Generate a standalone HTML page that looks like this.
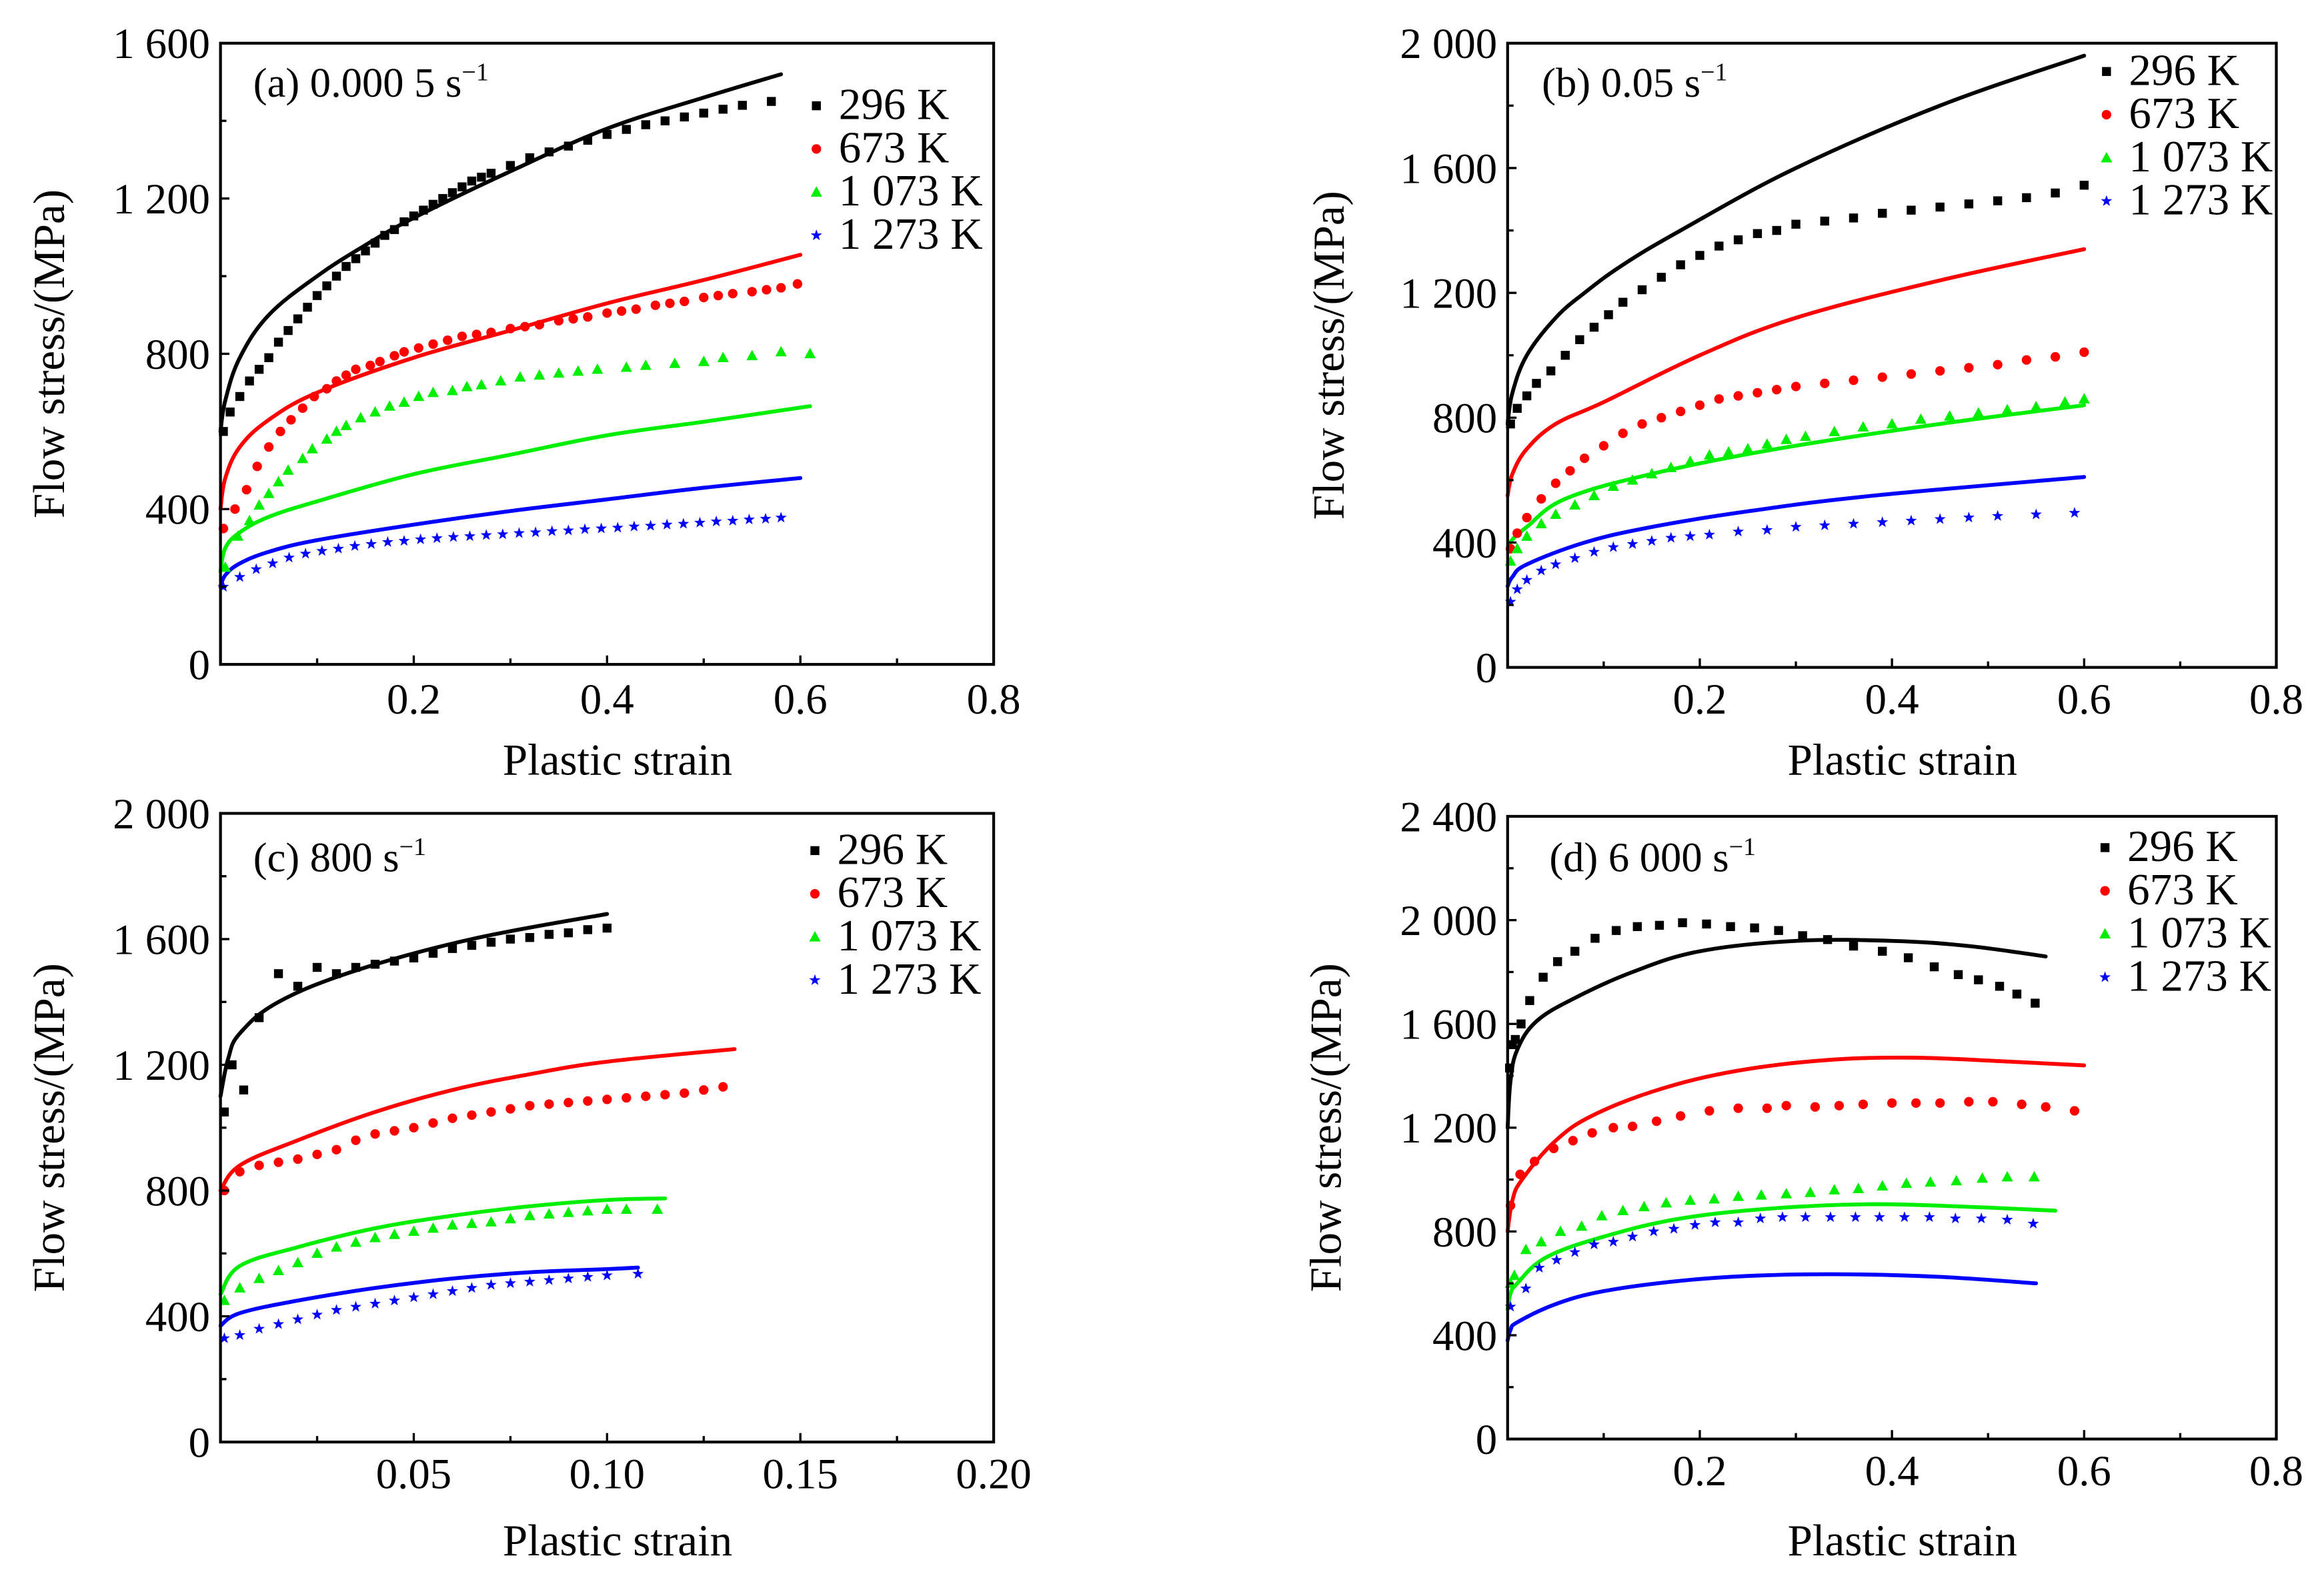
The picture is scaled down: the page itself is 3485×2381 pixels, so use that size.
<!DOCTYPE html>
<html><head><meta charset="utf-8"><style>
html,body{margin:0;padding:0;background:#fff}
svg{display:block}
text{font-family:"Liberation Serif",serif;fill:#000}
</style></head><body>
<svg id="fig" width="3485" height="2381" viewBox="0 0 1560 1066" preserveAspectRatio="none" xmlns="http://www.w3.org/2000/svg"></svg>
<script>
// ---------- Panel (a) data ----------
const aBlackLineX=[0,0.005,0.02,0.05,0.1,0.15,0.2,0.3,0.4,0.5,0.58];
const aBlackLineY=[600,680,790,900,1000,1080,1150,1270,1380,1460,1520];
const aRedLineX=[0,0.005,0.02,0.05,0.1,0.2,0.3,0.4,0.5,0.6];
const aRedLineY=[400,480,560,630,700,790,860,930,990,1055];
const aGreenLineX=[0,0.005,0.02,0.05,0.1,0.2,0.3,0.4,0.5,0.61];
const aGreenLineY=[240,300,340,380,420,490,540,590,625,665];
const aBlueLineX=[0,0.005,0.02,0.05,0.1,0.2,0.3,0.4,0.5,0.6];
const aBlueLineY=[200,230,260,290,320,360,395,425,455,480];
const aBlackPtsX=[0.003,0.01,0.02,0.03,0.04,0.05,0.06,0.07,0.08,0.09,0.1,0.11,0.12,0.13,0.14,0.15,0.16,0.17,0.18,0.19,0.2,0.21,0.22,0.23,0.24,0.25,0.26,0.27,0.28,0.3,0.32,0.34,0.36,0.38,0.4,0.42,0.44,0.46,0.48,0.5,0.52,0.54,0.57];
const aBlackPtsY=[600,650,690,730,760,790,830,860,890,920,950,975,1000,1025,1045,1065,1085,1105,1120,1140,1155,1170,1185,1200,1215,1230,1245,1255,1265,1285,1305,1320,1335,1350,1365,1378,1390,1400,1410,1420,1430,1440,1450];
const aRedPtsX=[0.003,0.015,0.027,0.038,0.05,0.062,0.073,0.085,0.097,0.11,0.12,0.13,0.14,0.155,0.165,0.18,0.19,0.205,0.22,0.235,0.25,0.265,0.28,0.3,0.315,0.33,0.35,0.365,0.38,0.4,0.415,0.43,0.45,0.465,0.48,0.5,0.515,0.53,0.55,0.565,0.58,0.597];
const aRedPtsY=[350,400,450,510,560,600,630,660,690,710,730,745,760,770,780,795,805,815,825,835,845,850,855,865,870,875,885,890,895,905,910,915,925,930,935,945,950,955,960,965,970,980];
const aGreenPtsX=[0.005,0.018,0.03,0.04,0.05,0.06,0.07,0.085,0.095,0.11,0.12,0.13,0.145,0.16,0.175,0.19,0.205,0.22,0.24,0.255,0.27,0.29,0.31,0.33,0.35,0.37,0.39,0.42,0.44,0.47,0.5,0.52,0.55,0.58,0.61];
const aGreenPtsY=[250,330,370,410,440,470,500,530,555,580,600,615,635,650,665,675,690,700,705,715,720,730,740,745,750,755,760,765,770,775,780,790,795,805,800];
const aBluePtsX=[0.003,0.02,0.037,0.054,0.071,0.088,0.105,0.122,0.139,0.156,0.173,0.19,0.207,0.224,0.241,0.258,0.275,0.292,0.309,0.326,0.343,0.36,0.377,0.394,0.411,0.428,0.445,0.462,0.479,0.496,0.513,0.53,0.547,0.564,0.58];
const aBluePtsY=[200,225,245,260,275,285,292,298,305,310,315,318,322,325,328,330,333,335,338,340,343,345,348,350,352,355,357,360,362,365,368,370,373,375,378];
// ---------- Panel (b) data ----------
const bBlackLineX=[0,0.005,0.02,0.05,0.08,0.12,0.18,0.3,0.45,0.6];
const bBlackLineY=[780,880,1000,1120,1200,1290,1400,1600,1800,1960];
const bRedLineX=[0,0.005,0.02,0.05,0.1,0.2,0.3,0.45,0.6];
const bRedLineY=[550,620,700,780,850,1000,1120,1240,1340];
const bGreenLineX=[0,0.005,0.02,0.06,0.15,0.28,0.45,0.6];
const bGreenLineY=[380,410,450,540,620,700,780,840];
const bBlueLineX=[0,0.005,0.02,0.08,0.15,0.25,0.38,0.6];
const bBlueLineY=[260,290,330,400,450,500,550,610];
const bBlackPtsX=[0.003,0.01,0.02,0.03,0.045,0.06,0.075,0.09,0.105,0.12,0.14,0.16,0.18,0.2,0.22,0.24,0.26,0.28,0.3,0.33,0.36,0.39,0.42,0.45,0.48,0.51,0.54,0.57,0.6];
const bBlackPtsY=[780,830,870,910,950,1000,1050,1090,1130,1170,1210,1250,1290,1320,1350,1370,1390,1400,1420,1430,1440,1455,1465,1475,1485,1495,1505,1520,1545];
const bRedPtsX=[0.003,0.01,0.02,0.035,0.05,0.065,0.08,0.1,0.12,0.14,0.16,0.18,0.2,0.22,0.24,0.26,0.28,0.3,0.33,0.36,0.39,0.42,0.45,0.48,0.51,0.54,0.57,0.6];
const bRedPtsY=[380,430,480,540,590,630,670,710,750,780,800,820,840,860,870,880,890,900,910,920,930,940,950,960,970,985,995,1010];
const bGreenPtsX=[0.003,0.01,0.02,0.035,0.05,0.07,0.09,0.11,0.13,0.15,0.17,0.19,0.21,0.23,0.25,0.27,0.29,0.31,0.34,0.37,0.4,0.43,0.46,0.49,0.52,0.55,0.58,0.6];
const bGreenPtsY=[340,380,420,460,490,520,550,580,600,620,640,660,680,690,700,715,730,740,755,770,780,795,805,815,825,835,850,860];
const bBluePtsX=[0.003,0.01,0.02,0.035,0.05,0.07,0.09,0.11,0.13,0.15,0.17,0.19,0.21,0.24,0.27,0.3,0.33,0.36,0.39,0.42,0.45,0.48,0.51,0.55,0.59];
const bBluePtsY=[210,250,280,310,330,350,370,385,395,405,415,420,425,435,440,450,455,460,465,470,475,480,485,490,495];
// ---------- Panel (c) data ----------
const cBlackLineX=[0,0.002,0.005,0.015,0.035,0.065,0.1];
const cBlackLineY=[1100,1220,1300,1400,1500,1600,1680];
const cRedLineX=[0,0.005,0.02,0.04,0.06,0.08,0.1,0.133];
const cRedLineY=[800,880,960,1050,1120,1170,1210,1250];
const cGreenLineX=[0,0.005,0.02,0.04,0.06,0.08,0.1,0.115];
const cGreenLineY=[470,560,620,680,720,750,770,775];
const cBlueLineX=[0,0.005,0.02,0.04,0.06,0.08,0.1,0.108];
const cBlueLineY=[370,410,450,490,520,540,550,555];
const cBlackPtsX=[0.001,0.003,0.006,0.01,0.015,0.02,0.025,0.03,0.035,0.04,0.045,0.05,0.055,0.06,0.065,0.07,0.075,0.08,0.085,0.09,0.095,0.1];
const cBlackPtsY=[1050,1200,1120,1350,1490,1450,1510,1490,1510,1520,1530,1540,1555,1570,1580,1590,1600,1605,1615,1620,1630,1635];
const cRedPtsX=[0.001,0.005,0.01,0.015,0.02,0.025,0.03,0.035,0.04,0.045,0.05,0.055,0.06,0.065,0.07,0.075,0.08,0.085,0.09,0.095,0.1,0.105,0.11,0.115,0.12,0.125,0.13];
const cRedPtsY=[800,860,880,890,900,915,930,960,980,990,1000,1015,1030,1040,1050,1060,1070,1075,1080,1085,1090,1095,1100,1105,1110,1120,1130];
const cGreenPtsX=[0.001,0.005,0.01,0.015,0.02,0.025,0.03,0.035,0.04,0.045,0.05,0.055,0.06,0.065,0.07,0.075,0.08,0.085,0.09,0.095,0.1,0.105,0.113];
const cGreenPtsY=[450,490,520,545,570,600,620,635,650,660,670,680,690,695,700,710,720,725,730,735,740,740,740];
const cBluePtsX=[0.001,0.005,0.01,0.015,0.02,0.025,0.03,0.035,0.04,0.045,0.05,0.055,0.06,0.065,0.07,0.075,0.08,0.085,0.09,0.095,0.1,0.108];
const cBluePtsY=[330,340,360,375,390,405,420,430,440,450,460,470,480,490,500,505,510,515,520,525,530,535];
// ---------- Panel (d) data ----------
const dBlackLineX=[0,0.003,0.01,0.03,0.07,0.13,0.2,0.3,0.4,0.48,0.56];
const dBlackLineY=[1200,1380,1500,1610,1700,1800,1880,1920,1920,1900,1860];
const dRedLineX=[0,0.005,0.015,0.05,0.09,0.16,0.24,0.33,0.42,0.52,0.6];
const dRedLineY=[800,920,1000,1150,1250,1350,1420,1460,1470,1455,1440];
const dGreenLineX=[0,0.003,0.01,0.04,0.1,0.18,0.28,0.38,0.48,0.57];
const dGreenLineY=[500,560,600,700,780,850,890,905,895,880];
const dBlueLineX=[0,0.003,0.01,0.05,0.1,0.18,0.26,0.35,0.45,0.55];
const dBlueLineY=[380,420,450,520,570,610,630,635,625,600];
const dBlackPtsX=[0.002,0.005,0.008,0.014,0.023,0.037,0.052,0.07,0.091,0.113,0.135,0.158,0.182,0.207,0.232,0.257,0.282,0.307,0.333,0.36,0.39,0.417,0.444,0.469,0.49,0.512,0.53,0.549];
const dBlackPtsY=[1430,1520,1540,1600,1690,1780,1840,1880,1930,1960,1975,1980,1990,1985,1975,1970,1960,1940,1925,1900,1880,1855,1820,1790,1770,1745,1715,1680];
const dRedPtsX=[0.003,0.013,0.028,0.048,0.068,0.088,0.11,0.13,0.155,0.18,0.21,0.24,0.27,0.29,0.32,0.345,0.37,0.4,0.425,0.45,0.48,0.505,0.535,0.56,0.59];
const dRedPtsY=[900,1020,1070,1120,1150,1180,1200,1205,1225,1245,1265,1275,1275,1285,1280,1285,1290,1295,1295,1295,1300,1300,1290,1280,1265];
const dGreenPtsX=[0.003,0.007,0.019,0.035,0.055,0.077,0.098,0.12,0.142,0.165,0.19,0.215,0.24,0.264,0.29,0.315,0.34,0.365,0.39,0.415,0.44,0.467,0.494,0.52,0.548];
const dGreenPtsY=[600,630,730,760,800,820,860,880,895,910,920,925,935,940,945,950,960,965,975,985,990,995,1005,1010,1010];
const dBluePtsX=[0.003,0.019,0.033,0.051,0.07,0.09,0.11,0.13,0.152,0.173,0.195,0.216,0.24,0.263,0.286,0.31,0.336,0.362,0.387,0.413,0.439,0.466,0.493,0.52,0.547];
const dBluePtsY=[510,580,660,690,720,750,760,780,800,810,825,835,835,850,855,855,855,855,855,855,855,850,850,845,830];

const legendLabels=["296 K","673 K","1 073 K","1 273 K"];
const colors=["#000000","#ff0000","#00ee00","#0000ff"];
const markers=["square","circle","triangle","star"];

const NS="http://www.w3.org/2000/svg";
const svg=document.getElementById('fig');
function el(tag,attrs,parent){const e=document.createElementNS(NS,tag);for(const k in attrs)e.setAttribute(k,attrs[k]);(parent||svg).appendChild(e);return e;}

function drawMarker(g,type,x,y,c){
  let m;
  if(type==="square") m=el('rect',{x:x-3,y:y-3,width:6,height:6,fill:c},g);
  else if(type==="circle") m=el('circle',{cx:x,cy:y,r:3.2,fill:c},g);
  else if(type==="triangle") m=el('polygon',{points:`${x},${y-4} ${x+3.8},${y+3} ${x-3.8},${y+3}`,fill:c},g);
  else {let p=[];for(let i=0;i<10;i++){const r=i%2?1.6:4;const a=-Math.PI/2+i*Math.PI/5;p.push((x+r*Math.cos(a)).toFixed(2)+","+(y+r*Math.sin(a)).toFixed(2));}
    m=el('polygon',{points:p.join(' '),fill:c},g);}
  return m;
}
function smoothPath(P){
  let d='M'+P[0][0].toFixed(2)+','+P[0][1].toFixed(2);
  for(let i=0;i<P.length-1;i++){
    const p0=P[Math.max(i-1,0)],p1=P[i],p2=P[i+1],p3=P[Math.min(i+2,P.length-1)];
    const t=0.18;
    const c1=[p1[0]+(p2[0]-p0[0])*t,p1[1]+(p2[1]-p0[1])*t];
    const c2=[p2[0]-(p3[0]-p1[0])*t,p2[1]-(p3[1]-p1[1])*t];
    d+=` C${c1[0].toFixed(2)},${c1[1].toFixed(2)} ${c2[0].toFixed(2)},${c2[1].toFixed(2)} ${p2[0].toFixed(2)},${p2[1].toFixed(2)}`;
  }
  return d;
}

function panel(cfg){
  const {id,L,R,T,B,xmax,ymax,xticks,xlabels,yticks,ylabels,title,lines,pts,legX,legY,legDy,titleX,titleY,ylabX,xlabY,tickLabY}=cfg;
  const g=el('g',{});
  
  
  const sx=v=>L+(R-L)*v/xmax, sy=v=>B-(B-T)*v/ymax;
  lines.forEach((ln,i)=>{
    const P=ln[0].map((x,j)=>[sx(x),sy(ln[1][j])]);
    const p=el('path',{d:smoothPath(P),fill:'none',stroke:colors[i],'stroke-width':2.6,'stroke-linejoin':'round','stroke-linecap':'round'},g);
    
    
  });
  pts.forEach((ps,i)=>{
    const mg=el('g',{},g);
    
    
    ps[0].forEach((x,j)=>{drawMarker(mg,markers[i],sx(x),sy(ps[1][j]),colors[i]);});
  });
  const fr=el('rect',{x:L,y:T,width:R-L,height:B-T,fill:'none',stroke:'#000','stroke-width':1.9},g);
  
  
  xticks.forEach((v,i)=>{
    const major=xlabels[i]!==null;
    el('line',{x1:sx(v),x2:sx(v),y1:B,y2:B-(major?6:4),stroke:'#000','stroke-width':1.5},g);
    if(major&&xlabels[i]!==""){
      const t=el('text',{x:sx(v),y:tickLabY,'font-size':29,'text-anchor':'middle'},g);
      t.textContent=xlabels[i];
      
      
    }
  });
  yticks.forEach((v,i)=>{
    const major=ylabels[i]!==null;
    el('line',{x1:L,x2:L+(major?6:4),y1:sy(v),y2:sy(v),stroke:'#000','stroke-width':1.5},g);
    if(major){
      const t=el('text',{x:L-7,y:sy(v)+10,'font-size':29,'text-anchor':'end'},g);
      t.textContent=ylabels[i];
      
      
    }
  });
  const yt=el('text',{x:0,y:0,'font-size':30,'text-anchor':'middle',transform:`translate(${ylabX},${(T+B)/2}) rotate(-90)`},g);
  yt.textContent='Flow stress/(MPa)';
  
  
  const xt=el('text',{x:(L+R)/2+7,y:xlabY,'font-size':30,'text-anchor':'middle'},g);
  xt.textContent='Plastic strain';
  
  
  const tt=el('text',{x:titleX,y:titleY,'font-size':28},g);
  
  
  tt.appendChild(document.createTextNode(title+' s'));
  const sup=el('tspan',{dy:-11,'font-size':17},tt); sup.textContent='−1';
  const lg=el('g',{},g);
  
  
  legendLabels.forEach((lab,i)=>{
    const y=legY+i*legDy;
    drawMarker(lg,markers[i],legX,y-9,colors[i]);
    const t=el('text',{x:legX+15,y:y,'font-size':30},lg);
    t.textContent=lab;
    
    
  });
}

const strainTicks=[0.1,0.2,0.3,0.4,0.5,0.6,0.7,0.8];
const strainLabels=[null,"0.2",null,"0.4",null,"0.6",null,"0.8"];
panel({id:'a',L:148,R:667,T:29,B:446,xmax:0.8,ymax:1600,xticks:strainTicks,xlabels:strainLabels,
  yticks:[0,200,400,600,800,1000,1200,1400,1600],ylabels:["0",null,"400",null,"800",null,"1 200",null,"1 600"],
  title:'(a) 0.000 5',titleX:170,titleY:65,
  lines:[[aBlackLineX,aBlackLineY],[aRedLineX,aRedLineY],[aGreenLineX,aGreenLineY],[aBlueLineX,aBlueLineY]],
  pts:[[aBlackPtsX,aBlackPtsY],[aRedPtsX,aRedPtsY],[aGreenPtsX,aGreenPtsY],[aBluePtsX,aBluePtsY]],
  legX:548,legY:80,legDy:29,ylabX:43,xlabY:520,tickLabY:479});
panel({id:'b',L:1012,R:1528,T:29,B:448,xmax:0.8,ymax:2000,xticks:strainTicks,xlabels:strainLabels,
  yticks:[0,200,400,600,800,1000,1200,1400,1600,1800,2000],ylabels:["0",null,"400",null,"800",null,"1 200",null,"1 600",null,"2 000"],
  title:'(b) 0.05',titleX:1035,titleY:65,
  lines:[[bBlackLineX,bBlackLineY],[bRedLineX,bRedLineY],[bGreenLineX,bGreenLineY],[bBlueLineX,bBlueLineY]],
  pts:[[bBlackPtsX,bBlackPtsY],[bRedPtsX,bRedPtsY],[bGreenPtsX,bGreenPtsY],[bBluePtsX,bBluePtsY]],
  legX:1414,legY:57,legDy:29,ylabX:902,xlabY:520,tickLabY:479});
panel({id:'c',L:148,R:667,T:546,B:968,xmax:0.2,ymax:2000,xticks:[0.025,0.05,0.075,0.1,0.125,0.15,0.175,0.2],xlabels:[null,"0.05",null,"0.10",null,"0.15",null,"0.20"],
  yticks:[0,200,400,600,800,1000,1200,1400,1600,1800,2000],ylabels:["0",null,"400",null,"800",null,"1 200",null,"1 600",null,"2 000"],
  title:'(c) 800',titleX:170,titleY:585,
  lines:[[cBlackLineX,cBlackLineY],[cRedLineX,cRedLineY],[cGreenLineX,cGreenLineY],[cBlueLineX,cBlueLineY]],
  pts:[[cBlackPtsX,cBlackPtsY],[cRedPtsX,cRedPtsY],[cGreenPtsX,cGreenPtsY],[cBluePtsX,cBluePtsY]],
  legX:547,legY:580,legDy:29,ylabX:43,xlabY:1044,tickLabY:999});
panel({id:'d',L:1012,R:1528,T:548,B:966,xmax:0.8,ymax:2400,xticks:strainTicks,xlabels:strainLabels,
  yticks:[0,200,400,600,800,1000,1200,1400,1600,1800,2000,2200,2400],ylabels:["0",null,"400",null,"800",null,"1 200",null,"1 600",null,"2 000",null,"2 400"],
  title:'(d) 6 000',titleX:1040,titleY:585,
  lines:[[dBlackLineX,dBlackLineY],[dRedLineX,dRedLineY],[dGreenLineX,dGreenLineY],[dBlueLineX,dBlueLineY]],
  pts:[[dBlackPtsX,dBlackPtsY],[dRedPtsX,dRedPtsY],[dGreenPtsX,dGreenPtsY],[dBluePtsX,dBluePtsY]],
  legX:1413,legY:578,legDy:29,ylabX:900,xlabY:1044,tickLabY:997});
</script>
</body></html>
